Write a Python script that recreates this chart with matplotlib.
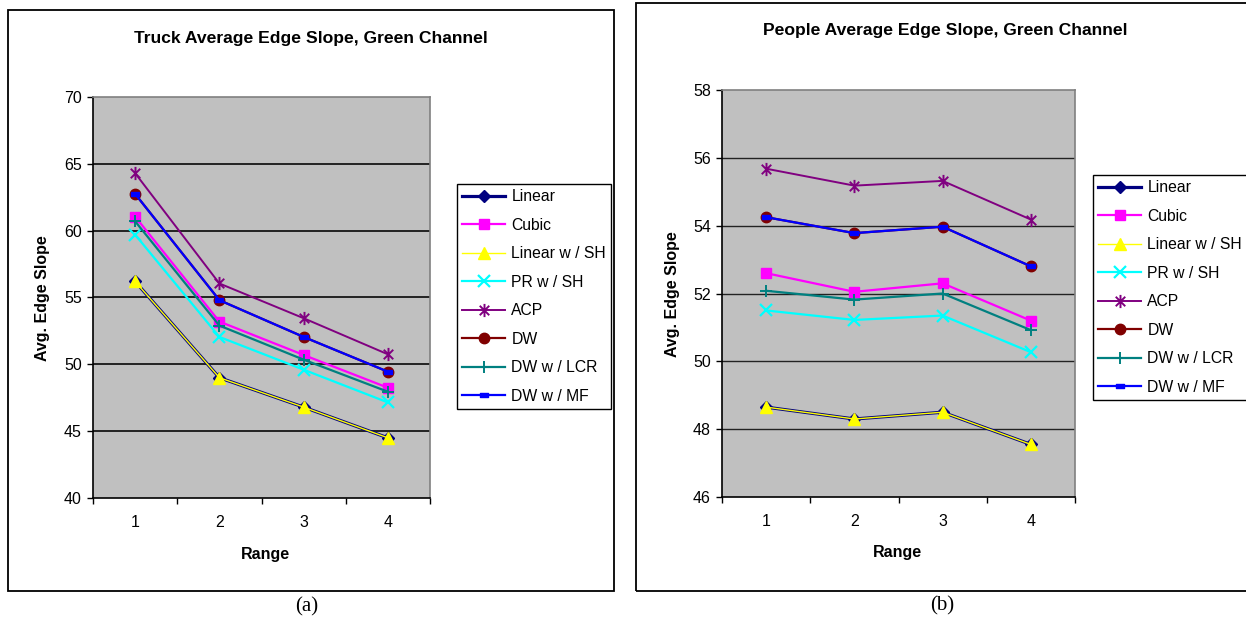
import matplotlib
matplotlib.use("Agg")
import matplotlib.pyplot as plt
from matplotlib.path import Path
from matplotlib.patches import Rectangle

plt.rcParams['font.family'] = ['Liberation Sans', 'DejaVu Sans']

ranges = [1, 2, 3, 4]
series_names = ["Linear", "Cubic", "Linear w / SH", "PR w / SH", "ACP", "DW",
                "DW w / LCR", "DW w / MF"]

# Truck (a)
truck_linear = [56.2, 49.0, 46.8, 44.5]
truck_cubic = [61.05, 53.2, 50.7, 48.25]
truck_linear_sh = [56.2, 49.0, 46.8, 44.5]
truck_pr_sh = [59.7, 52.05, 49.6, 47.15]
truck_acp = [64.3, 56.05, 53.45, 50.75]
truck_dw = [62.75, 54.8, 52.05, 49.45]
truck_dw_lcr = [60.7, 52.9, 50.35, 47.95]
truck_dw_mf = [62.75, 54.8, 52.05, 49.45]

# People (b)
people_linear = [48.65, 48.3, 48.5, 47.55]
people_cubic = [52.6, 52.05, 52.3, 51.2]
people_linear_sh = [48.65, 48.3, 48.5, 47.55]
people_pr_sh = [51.5, 51.22, 51.35, 50.27]
people_acp = [55.68, 55.18, 55.32, 54.18]
people_dw = [54.25, 53.78, 53.97, 52.8]
people_dw_lcr = [52.08, 51.82, 52.0, 50.92]
people_dw_mf = [54.25, 53.78, 53.97, 52.8]

truck_series = [truck_linear, truck_cubic, truck_linear_sh, truck_pr_sh,
                truck_acp, truck_dw, truck_dw_lcr, truck_dw_mf]
people_series = [people_linear, people_cubic, people_linear_sh, people_pr_sh,
                 people_acp, people_dw, people_dw_lcr, people_dw_mf]

asterisk = Path([(0, -1), (0, 1), (-0.72, -0.72), (0.72, 0.72), (-0.72, 0.72), (0.72, -0.72)],
                [Path.MOVETO, Path.LINETO, Path.MOVETO, Path.LINETO, Path.MOVETO, Path.LINETO])
dash = Path([(-1, -0.4), (1, -0.4), (1, 0.4), (-1, 0.4), (-1, -0.4)],
            [Path.MOVETO, Path.LINETO, Path.LINETO, Path.LINETO, Path.CLOSEPOLY])

styles = [
    dict(color='#000080', marker='D', ms=6, lw=2.3, mfc='#000080', mec='#000080'),
    dict(color='#FF00FF', marker='s', ms=7, lw=1.6, mfc='#FF00FF', mec='#FF00FF'),
    dict(color='#FFFF00', marker='^', ms=8.5, lw=1.0, mfc='#FFFF00', mec='#FFFF00'),
    dict(color='#00FFFF', marker='x', ms=8, lw=1.6, mec='#00FFFF', mew=1.6),
    dict(color='#800080', marker=asterisk, ms=9.5, lw=1.4, mec='#800080', mfc='none', mew=1.4),
    dict(color='#800000', marker='o', ms=7.5, lw=1.6, mfc='#800000', mec='#800000'),
    dict(color='#008080', marker='+', ms=9, lw=1.6, mec='#008080', mew=1.4),
    dict(color='#0000FF', marker=dash, ms=6, lw=1.6, mfc='#0000FF', mec='#0000FF'),
]

W, H = 1246, 625
fig = plt.figure(figsize=(W / 100, H / 100), dpi=100)
fig.patch.set_facecolor('white')


def fx(px):
    return px / W


def fy(py):
    return 1 - py / H


# outer chart frames
fig.patches.append(Rectangle((fx(8), fy(591)), fx(614) - fx(8), fy(10) - fy(591),
                             transform=fig.transFigure, fill=False, ec='black', lw=1.3))
fig.patches.append(Rectangle((fx(636), fy(591)), fx(1252) - fx(636), fy(3) - fy(591),
                             transform=fig.transFigure, fill=False, ec='black', lw=1.3))


def make_chart(rect, series, ylim, ystep, title, title_xy, ylab_xy, xlab_xy,
               leg_xy, caption, cap_xy, grid_lw):
    ax = fig.add_axes(rect)
    ax.set_facecolor('#C0C0C0')
    handles = []
    for name, vals, st in zip(series_names, series, styles):
        h, = ax.plot(ranges, vals, label=name, **st)
        handles.append(h)
    ax.set_xlim(0.5, 4.5)
    ax.set_ylim(*ylim)
    yt = list(range(ylim[0], ylim[1] + 1, ystep))
    ax.set_yticks(yt)
    ax.set_yticklabels([str(v) for v in yt])
    for v in yt[1:-1]:
        ax.axhline(v, color='#222222', lw=grid_lw, zorder=0.5)
    ax.set_xticks([0.5, 1.5, 2.5, 3.5, 4.5])
    ax.set_xticklabels([])
    ax.set_xticks(ranges, minor=True)
    ax.set_xticklabels([str(r) for r in ranges], minor=True)
    ax.tick_params(axis='x', which='major', length=4, width=1, direction='out')
    ax.tick_params(axis='x', which='minor', length=0, pad=12, labelsize=11.5)
    ax.tick_params(axis='y', length=4, width=1, direction='out', pad=4, labelsize=11.5)
    for s in ('left', 'bottom'):
        ax.spines[s].set_color('black')
        ax.spines[s].set_linewidth(1.2)
    for s in ('top', 'right'):
        ax.spines[s].set_color('#808080')
        ax.spines[s].set_linewidth(1.2)
    fig.text(fx(title_xy[0]), fy(title_xy[1]), title, ha='center', va='center',
             fontsize=12.6, fontweight='bold')
    fig.text(fx(ylab_xy[0]), fy(ylab_xy[1]), "Avg. Edge Slope", ha='center', va='center',
             rotation=90, fontsize=11.5, fontweight='bold')
    fig.text(fx(xlab_xy[0]), fy(xlab_xy[1]), "Range", ha='center', va='center',
             fontsize=11.5, fontweight='bold')
    leg = fig.legend(handles=handles, loc='upper left',
                     bbox_to_anchor=(fx(leg_xy[0]), fy(leg_xy[1])),
                     fontsize=11.3, frameon=True, fancybox=False, framealpha=1,
                     edgecolor='black', labelspacing=0.86, handlelength=2.75,
                     handletextpad=0.4, borderpad=0.32, borderaxespad=0)
    leg.get_frame().set_linewidth(1.0)
    fig.text(fx(cap_xy[0]), fy(cap_xy[1]), caption, ha='center', va='center',
             fontsize=15, family='Liberation Serif')
    return ax


make_chart([fx(93), fy(498), fx(430) - fx(93), fy(97) - fy(498)], truck_series,
           (40, 70), 5, "Truck Average Edge Slope, Green Channel", (311, 38), (43, 298),
           (265, 555), (457, 184), "(a)", (307, 607), 1.4)

make_chart([fx(722), fy(497), fx(1075) - fx(722), fy(90) - fy(497)], people_series,
           (46, 58), 2, "People Average Edge Slope, Green Channel", (945, 31), (672, 294),
           (897, 553), (1093, 175), "(b)", (942, 606), 1.0)

fig.savefig("out.png", dpi=100)
